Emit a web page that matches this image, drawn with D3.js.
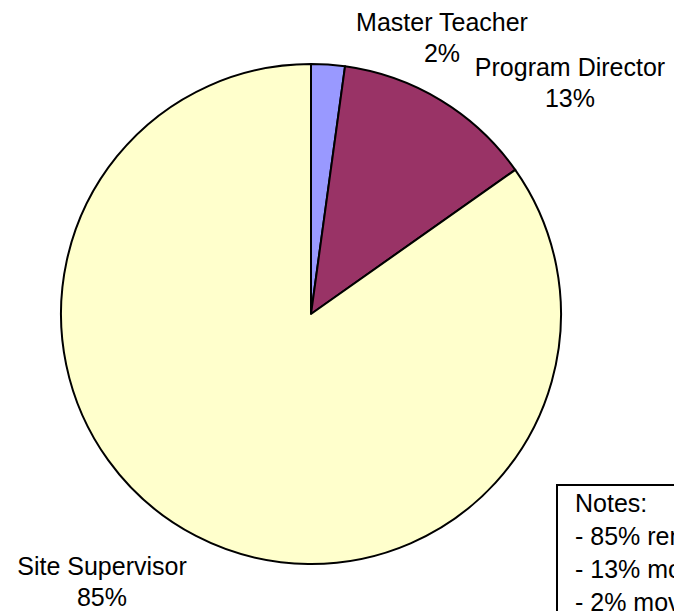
<!DOCTYPE html>
<html>
<head>
<meta charset="utf-8">
<script src="https://cdn.jsdelivr.net/npm/d3@7"></script>
<style>
  body { margin: 0; background: #fff; }
  text { font-family: "Liberation Sans", Arial, sans-serif; fill: #000; }
</style>
</head>
<body>
<div id="chart"></div>
<script>
// data
var roles = ["Master Teacher", "Program Director", "Site Supervisor"];
var counts = [1, 6, 39];
var colors = ["#9999FF", "#993366", "#FFFFCC"];
var notes = ["Notes:", "- 85% remained in position", "- 13% moved up", "- 2% moved over"];

var width = 674, height = 611;
var cx = 311, cy = 314, radius = 250;
const fontSize = 25;

// label anchors (centre x, first baseline)
var labelPos = [[442, 31], [570, 76], [102, 575]];

var svg = d3.select("#chart").append("svg")
    .attr("width", width)
    .attr("height", height);

var total = d3.sum(counts);
var pct = d3.format(".0%");

var pie = d3.pie().sort(null).value(function (d) { return d; });
var arc = d3.arc().innerRadius(0).outerRadius(radius);

var g = svg.append("g").attr("transform", "translate(" + cx + "," + cy + ")");

g.selectAll("path")
    .data(pie(counts))
    .enter()
    .append("path")
    .attr("d", arc)
    .attr("fill", function (d, i) { return colors[i]; })
    .attr("stroke", "#000")
    .attr("stroke-width", 2)
    .attr("stroke-linejoin", "round");

var labels = svg.selectAll("text.lbl")
    .data(roles)
    .enter()
    .append("text")
    .attr("class", "lbl")
    .attr("text-anchor", "middle")
    .attr("font-size", fontSize + "px");

labels.append("tspan")
    .attr("x", function (d, i) { return labelPos[i][0]; })
    .attr("y", function (d, i) { return labelPos[i][1]; })
    .text(function (d) { return d; });

labels.append("tspan")
    .attr("x", function (d, i) { return labelPos[i][0]; })
    .attr("y", function (d, i) { return labelPos[i][1] + 31; })
    .text(function (d, i) { return pct(counts[i] / total); });

// notes box, runs off the right edge
var box = svg.append("g").attr("transform", "translate(557,485)");
box.append("rect")
    .attr("width", 200)
    .attr("height", 160)
    .attr("fill", "#fff")
    .attr("stroke", "#000")
    .attr("stroke-width", 2);

box.selectAll("text")
    .data(notes)
    .enter()
    .append("text")
    .attr("x", 18)
    .attr("y", function (d, i) { return 27 + i * 33; })
    .attr("font-size", fontSize + "px")
    .text(function (d) { return d; });
</script>
</body>
</html>
